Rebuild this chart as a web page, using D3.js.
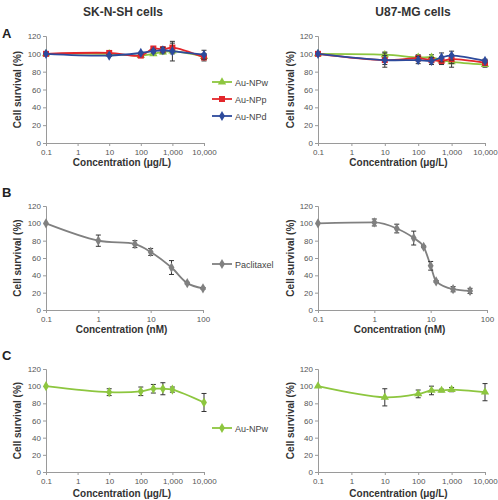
<!DOCTYPE html>
<html><head><meta charset="utf-8">
<script src="https://cdn.jsdelivr.net/npm/d3@7"></script>
<style>body{margin:0;background:#fff;} svg{display:block;font-family:"Liberation Sans",Arial,sans-serif;}</style>
</head><body>
<svg id="c" width="498" height="500"></svg>
<script>
// ---- data ----
const concUg = [0.1, 10, 100, 250, 500, 1000, 10000];
const ugTicks = [0.1, 1, 10, 100, 1000, 10000];
const ugTickLabels = ["0.1", "1", "10", "100", "1,000", "10,000"];
const nmTicks = [0.1, 1, 10, 100];
const nmTickLabels = ["0.1", "1", "10", "100"];
const yTicks = [0, 20, 40, 60, 80, 100, 120];

// Panel A, SK-N-SH
const skNPw = [100, 100, 98, 100, 102, 103, 97];
const skNPwErr = [0, 1, 1, 1, 2, 3, 3];
const skNPp = [100, 101, 98, 106, 105, 107, 96];
const skNPpErr = [0, 1, 1, 2, 3, 5, 4];
const skNPd = [100, 98, 101, 103, 104, 103, 99];
const skNPdErr = [0, 1, 1, 2, 3, 11, 5];
// Panel A, U87-MG
const uNPw = [100, 99, 96, 96, 93, 91, 88];
const uNPwErr = [0, 3, 3, 3, 4, 6, 3];
const uNPp = [100, 93, 95, 93, 92, 94, 90];
const uNPpErr = [0, 5, 3, 3, 4, 5, 3];
const uNPd = [100, 93, 93, 92, 96, 98, 92];
const uNPdErr = [0, 8, 4, 4, 5, 5, 2];
// Panel B, paclitaxel
const concNmSK = [0.1, 1, 5, 10, 25, 50, 100];
const paclSK = [100, 80, 76, 67, 49, 31, 25];
const paclSKErr = [0, 6.5, 4, 4, 8, 1, 1];
const concNmU = [0.1, 1, 2.5, 5, 7.5, 10, 12.5, 25, 50];
const paclU = [100, 101, 94, 83, 73, 51, 33, 24, 22];
const paclUErr = [0, 4, 5, 8, 1, 5, 1, 3, 3];
// Panel C, Au-NPw
const cSK = [100, 93, 94, 97, 97, 96, 81];
const cSKErr = [0, 4, 5, 5, 7, 3, 10.5];
const cU = [100, 87, 91, 95, 95, 96, 93];
const cUErr = [0, 10, 4.5, 5, 1.5, 2.5, 10];

const GREEN = "#8dc63f", RED = "#e3262b", BLUE = "#2d4a9c", GREY = "#808080";

const svg = d3.select("#c");

function panel(opt) {
  const x = d3.scaleLog().domain([0.1, opt.xMax]).range(opt.xr);
  const y = d3.scaleLinear().domain([0, 120]).range(opt.yr);
  const g = svg.append("g");
  const ya = g.append("g").attr("transform", `translate(${opt.xr[0]},0)`)
    .call(d3.axisLeft(y).tickValues(yTicks).tickSize(3).tickPadding(2));
  const xa = g.append("g").attr("transform", `translate(0,${opt.yr[0]})`)
    .call(d3.axisBottom(x).tickValues(opt.ticks).tickFormat((d, i) => opt.labels[i]).tickSize(3).tickPadding(3));
  [ya, xa].forEach(a => {
    a.select(".domain").attr("stroke", "#9a9a9a");
    a.selectAll(".tick line").attr("stroke", "#9a9a9a");
    a.selectAll(".tick text").attr("fill", "#555").style("font-size", "8px");
  });
  g.append("text").attr("x", (opt.xr[0] + opt.xr[1]) / 2 - 3).attr("y", opt.xlabY)
    .attr("text-anchor", "middle").style("font-size", "10px").style("font-weight", "bold").attr("fill", "#333")
    .text(opt.xlab);
  g.append("text").attr("transform", `translate(${opt.ylabX},${(opt.yr[0] + opt.yr[1]) / 2}) rotate(-90)`)
    .attr("text-anchor", "middle").style("font-size", "10px").style("font-weight", "bold").attr("fill", "#333")
    .text("Cell survival (%)");
  opt.series.forEach(s => {
    const pts = s.xs.map((v, i) => [x(v), y(s.ys[i])]);
    g.append("path").attr("d", d3.line().curve(s.curve || d3.curveCatmullRom.alpha(0.5))(pts))
      .attr("fill", "none").attr("stroke", s.color).attr("stroke-width", 1.8);
    s.xs.forEach((v, i) => {
      const e = s.err[i];
      if (e > 0) {
        const cx = x(v), t = y(s.ys[i] + e), b = y(s.ys[i] - e);
        g.append("path").attr("d", `M${cx},${t}V${b}M${cx - 2.5},${t}H${cx + 2.5}M${cx - 2.5},${b}H${cx + 2.5}`)
          .attr("stroke", "#333").attr("stroke-width", 1).attr("fill", "none");
      }
    });
    g.selectAll(null).data(pts).enter().append("path")
      .attr("transform", d => `translate(${d[0]},${d[1]})`)
      .attr("d", d3.symbol().type(s.shape).size(s.size || 30))
      .attr("fill", s.color);
  });
}

function legend(x0, y0, items) {
  items.forEach((it, i) => {
    const yy = y0 + i * 17;
    svg.append("line").attr("x1", x0).attr("x2", x0 + 20).attr("y1", yy).attr("y2", yy)
      .attr("stroke", it.color).attr("stroke-width", 1.8);
    svg.append("path").attr("transform", `translate(${x0 + 10},${yy})`)
      .attr("d", d3.symbol().type(it.shape).size(it.size || 30)).attr("fill", it.color);
    svg.append("text").attr("x", x0 + 23).attr("y", yy + 3.5).style("font-size", "9px").attr("fill", "#444").text(it.name);
  });
}

svg.append("text").attr("x", 123).attr("y", 16).attr("text-anchor", "middle").style("font-size", "12px").style("font-weight", "bold").attr("fill", "#333").text("SK-N-SH cells");
svg.append("text").attr("x", 413).attr("y", 16).attr("text-anchor", "middle").style("font-size", "12px").style("font-weight", "bold").attr("fill", "#333").text("U87-MG cells");
[["A", 38], ["B", 197], ["C", 360]].forEach(([t, yy]) =>
  svg.append("text").attr("x", 2).attr("y", yy).style("font-size", "13px").style("font-weight", "bold").attr("fill", "#222").text(t));

const ugLab = "Concentration (\u03bcg/L)";
panel({xMax: 10000, xr: [46, 204], yr: [143, 36], ticks: ugTicks, labels: ugTickLabels, xlab: ugLab, xlabY: 166, ylabX: 21,
  series: [
    {xs: concUg, ys: skNPw, err: skNPwErr, color: GREEN, shape: d3.symbolTriangle, size: 30},
    {xs: concUg, ys: skNPp, err: skNPpErr, color: RED, shape: d3.symbolSquare, size: 36},
    {xs: concUg, ys: skNPd, err: skNPdErr, color: BLUE, shape: d3.symbolDiamond, size: 30}]});
panel({xMax: 10000, xr: [318, 485], yr: [143, 36], ticks: ugTicks, labels: ugTickLabels, xlab: ugLab, xlabY: 166, ylabX: 294,
  series: [
    {xs: concUg, ys: uNPw, err: uNPwErr, color: GREEN, shape: d3.symbolTriangle, size: 30},
    {xs: concUg, ys: uNPp, err: uNPpErr, color: RED, shape: d3.symbolSquare, size: 36},
    {xs: concUg, ys: uNPd, err: uNPdErr, color: BLUE, shape: d3.symbolDiamond, size: 30}]});
legend(212, 82, [
  {name: "Au-NPw", color: GREEN, shape: d3.symbolTriangle},
  {name: "Au-NPp", color: RED, shape: d3.symbolSquare, size: 36},
  {name: "Au-NPd", color: BLUE, shape: d3.symbolDiamond}]);

panel({xMax: 100, xr: [46, 203], yr: [310, 206], ticks: nmTicks, labels: nmTickLabels, xlab: "Concentration (nM)", xlabY: 333, ylabX: 21,
  series: [{xs: concNmSK, ys: paclSK, err: paclSKErr, color: GREY, shape: d3.symbolDiamond, size: 30}]});
panel({xMax: 100, xr: [318, 487], yr: [310, 206], ticks: nmTicks, labels: nmTickLabels, xlab: "Concentration (nM)", xlabY: 333, ylabX: 294,
  series: [{xs: concNmU, ys: paclU, err: paclUErr, color: GREY, shape: d3.symbolDiamond, size: 30, curve: d3.curveMonotoneX}]});
legend(212, 264, [{name: "Paclitaxel", color: GREY, shape: d3.symbolDiamond}]);

panel({xMax: 10000, xr: [46, 204], yr: [472, 369], ticks: ugTicks, labels: ugTickLabels, xlab: ugLab, xlabY: 497, ylabX: 21,
  series: [{xs: concUg, ys: cSK, err: cSKErr, color: GREEN, shape: d3.symbolDiamond, size: 30}]});
panel({xMax: 10000, xr: [318, 485], yr: [472, 369], ticks: ugTicks, labels: ugTickLabels, xlab: ugLab, xlabY: 497, ylabX: 294,
  series: [{xs: concUg, ys: cU, err: cUErr, color: GREEN, shape: d3.symbolTriangle, size: 30}]});
legend(212, 428, [{name: "Au-NPw", color: GREEN, shape: d3.symbolDiamond}]);
</script>
</body></html>
